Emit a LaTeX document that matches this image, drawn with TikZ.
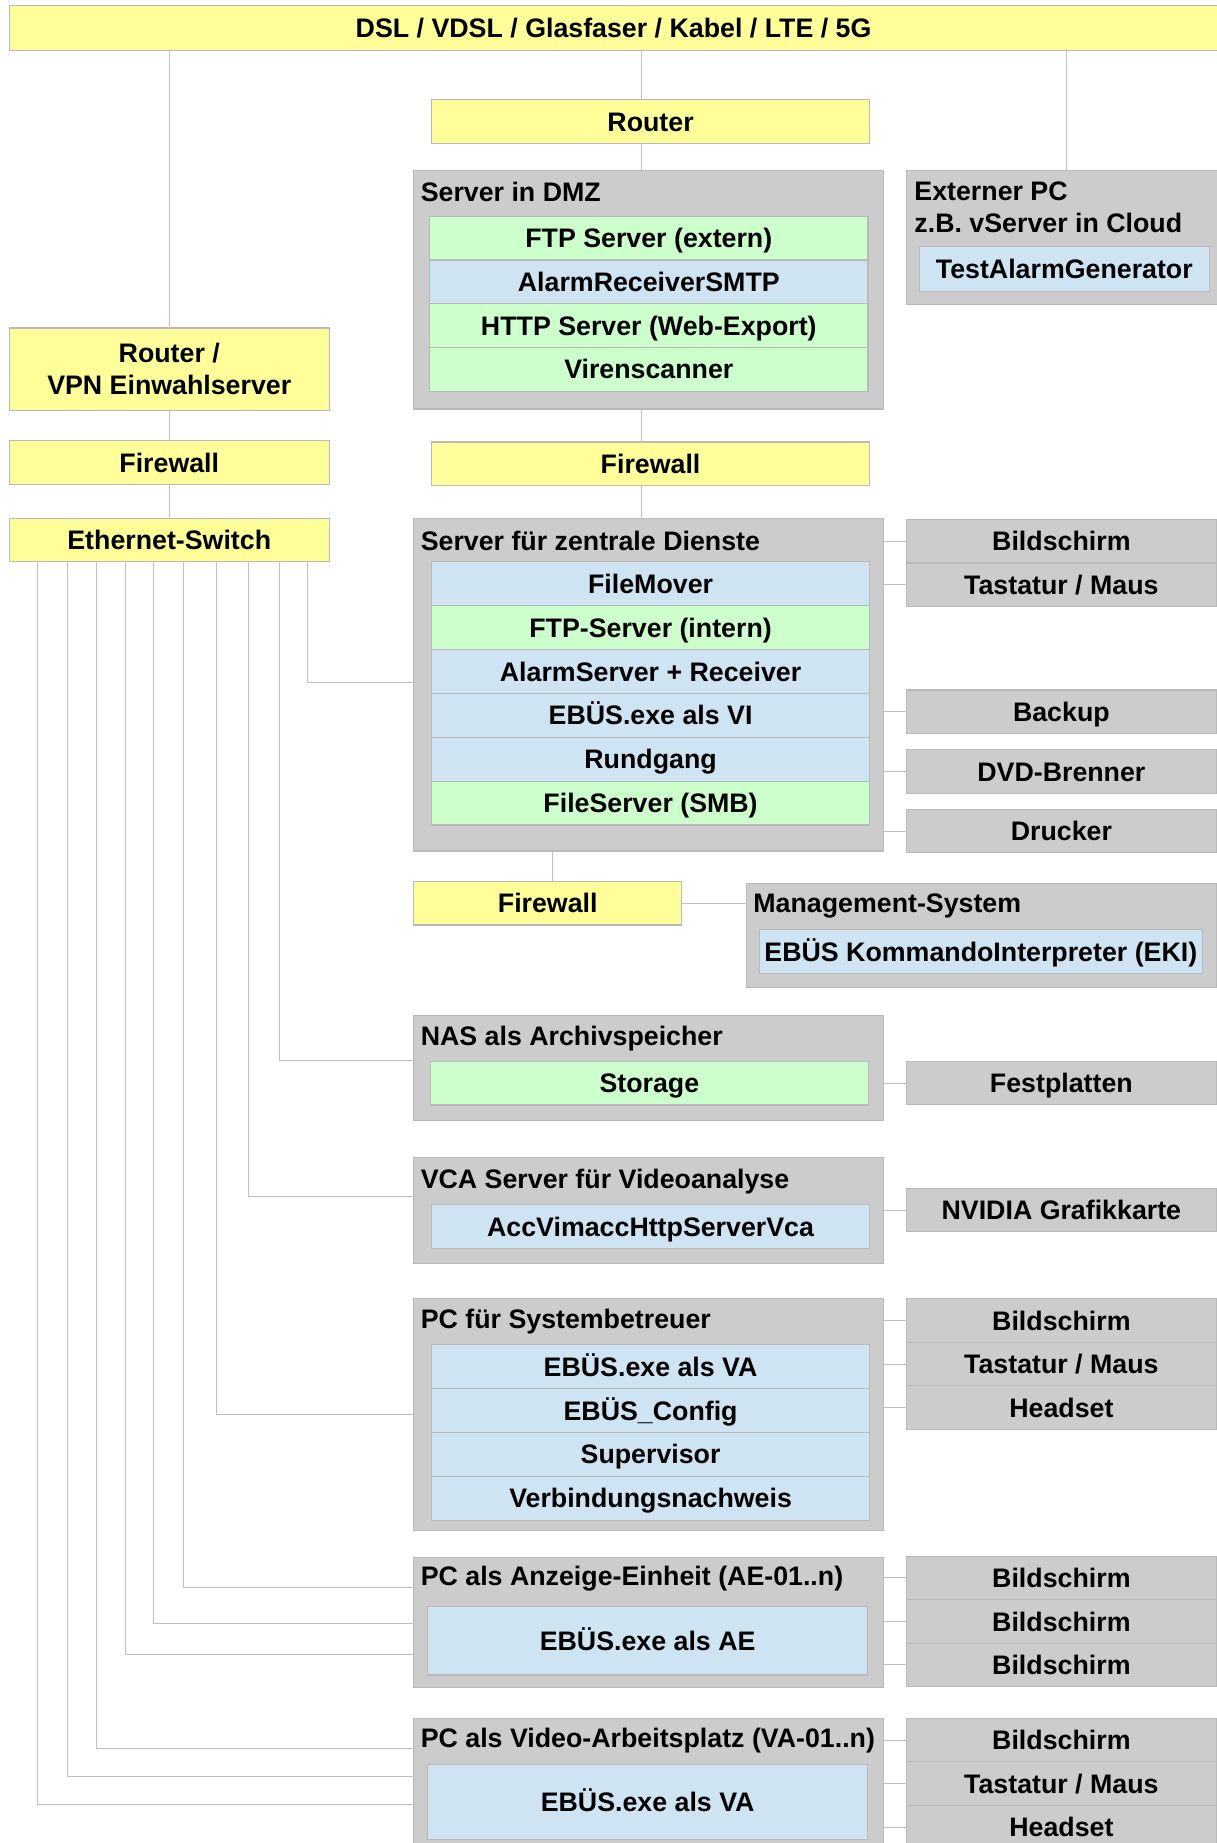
\documentclass[tikz,border=0pt]{standalone}
\usepackage{fontspec}
\setmainfont{Liberation Sans}
\usetikzlibrary{positioning}

\definecolor{gelb}{RGB}{255,255,153}
\definecolor{grau}{RGB}{204,204,204}
\definecolor{gruen}{RGB}{204,255,204}
\definecolor{blau}{RGB}{207,228,243}
\definecolor{rand}{RGB}{185,185,185}
\definecolor{linie}{RGB}{192,192,192}

\begin{document}
\begin{tikzpicture}[
    font=\fontsize{16.2}{19.2}\selectfont\bfseries,
    every node/.style={inner sep=0pt, outer sep=0pt},
    zeile/.style={text height=11.6pt, text depth=0pt},
    netzbox/.style={rectangle, draw=rand, line width=0.7pt, fill=gelb, minimum height=0.925cm},
    netz/.style={netzbox, zeile},
    gruppe/.style={rectangle, draw=rand, line width=0.7pt, fill=grau, minimum width=10cm},
    titel/.style={anchor=west},
    dienst/.style={rectangle, draw=rand, line width=0.7pt, fill=blau, minimum width=9.325cm, minimum height=0.933cm, zeile},
    dienstg/.style={dienst, fill=gruen},
    geraet/.style={rectangle, draw=rand, line width=0.7pt, fill=grau, minimum width=6.6cm, minimum height=0.925cm, zeile},
    link/.style={draw=linie, line width=0.6pt}
]
    \useasboundingbox (0,0) rectangle (25.875,-39.2);

    % Anschluss
    \node[netz, minimum width=25.7cm, minimum height=0.95cm] (dsl) at (13.05,-0.6) {DSL / VDSL / Glasfaser / Kabel / LTE / 5G};

    % Router und DMZ
    \node[netz, minimum width=9.325cm] (router) at (13.8375,-2.5875) {Router};
    \node[gruppe, minimum height=5.075cm] (dmz) at (13.8,-6.1625) {};
    \node[titel] (dmztitel) at (8.95,-4.075) {Server in DMZ};
    \node[dienstg, minimum height=0.93cm] (ftpext) at (13.8,-5.065) {FTP Server (extern)};
    \node[dienst, minimum height=0.93cm, below=0pt of ftpext] (smtp) {AlarmReceiverSMTP};
    \node[dienstg, minimum height=0.93cm, below=0pt of smtp] (http) {HTTP Server (Web-Export)};
    \node[dienstg, minimum height=0.93cm, below=0pt of http] (viren) {Virenscanner};

    % Externer PC
    \node[gruppe, minimum width=6.625cm, minimum height=2.85cm] (extern) at (22.5875,-5.05) {};
    \node[titel, align=left] (externtitel) at (19.45,-4.41) {Externer PC\\z.B. vServer in Cloud};
    \node[dienst, minimum width=6.175cm, minimum height=0.95cm] (tag) at (22.6375,-5.725) {TestAlarmGenerator};

    % Einwahl links
    \node[netzbox, minimum width=6.8cm, minimum height=1.75cm, align=center] (vpn) at (3.6,-7.85) {Router /\\VPN Einwahlserver};
    \node[netz, minimum width=6.8cm] (fw1) at (3.6,-9.8375) {Firewall};
    \node[netz, minimum width=6.8cm] (switch) at (3.6,-11.4875) {Ethernet-Switch};

    % Server fuer zentrale Dienste
    \node[netz, minimum width=9.325cm] (fw2) at (13.8375,-9.8625) {Firewall};
    \node[gruppe, minimum height=7.075cm] (srv) at (13.8,-14.5625) {};
    \node[titel] (srvtitel) at (8.95,-11.5) {Server für zentrale Dienste};
    \node[dienst] (filemover) at (13.8375,-12.4165) {FileMover};
    \node[dienstg, below=0pt of filemover] (ftpint) {FTP-Server (intern)};
    \node[dienst, below=0pt of ftpint] (alarm) {AlarmServer + Receiver};
    \node[dienst, below=0pt of alarm] (vi) {EBÜS.exe als VI};
    \node[dienst, below=0pt of vi] (rundgang) {Rundgang};
    \node[dienstg, below=0pt of rundgang] (smb) {FileServer (SMB)};

    \node[geraet] (bs1) at (22.575,-11.5125) {Bildschirm};
    \node[geraet, below=0pt of bs1] (tm1) {Tastatur / Maus};
    \node[geraet] (backup) at (22.575,-15.1375) {Backup};
    \node[geraet] (dvd) at (22.575,-16.4125) {DVD-Brenner};
    \node[geraet] (drucker) at (22.575,-17.675) {Drucker};

    % Management-System
    \node[netz, minimum width=5.7cm] (fw3) at (11.65,-19.2125) {Firewall};
    \node[gruppe, minimum height=2.2cm] (mgmt) at (20.875,-19.9) {};
    \node[titel] (mgmttitel) at (16.025,-19.275) {Management-System};
    \node[dienst, minimum width=9.425cm] (eki) at (20.8625,-20.2375) {EBÜS KommandoInterpreter (EKI)};

    % NAS
    \node[gruppe, minimum height=2.225cm] (nas) at (13.8,-22.7125) {};
    \node[titel] (nastitel) at (8.95,-22.1) {NAS als Archivspeicher};
    \node[dienstg] (storage) at (13.8125,-23.0375) {Storage};
    \node[geraet] (platten) at (22.575,-23.0375) {Festplatten};

    % VCA Server
    \node[gruppe, minimum height=2.25cm] (vca) at (13.8,-25.75) {};
    \node[titel] (vcatitel) at (8.95,-25.125) {VCA Server für Videoanalyse};
    \node[dienst] (acc) at (13.8375,-26.0875) {AccVimaccHttpServerVca};
    \node[geraet] (nvidia) at (22.575,-25.7375) {NVIDIA Grafikkarte};

    % PC fuer Systembetreuer
    \node[gruppe, minimum height=4.925cm] (pcsys) at (13.8,-30.0875) {};
    \node[titel] (pcsystitel) at (8.95,-28.1) {PC für Systembetreuer};
    \node[dienst] (va1) at (13.8375,-29.0665) {EBÜS.exe als VA};
    \node[dienst, below=0pt of va1] (config) {EBÜS\_Config};
    \node[dienst, below=0pt of config] (supervisor) {Supervisor};
    \node[dienst, below=0pt of supervisor] (nachweis) {Verbindungsnachweis};

    \node[geraet] (bs2) at (22.575,-28.0875) {Bildschirm};
    \node[geraet, below=0pt of bs2] (tm2) {Tastatur / Maus};
    \node[geraet, below=0pt of tm2] (hs1) {Headset};

    % Anzeige-Einheit
    \node[gruppe, minimum height=2.775cm] (ae) at (13.8,-34.5125) {};
    \node[titel] (aetitel) at (8.95,-33.575) {PC als Anzeige-Einheit (AE-01..n)};
    \node[dienst, minimum width=9.35cm, minimum height=1.45cm] (aeexe) at (13.775,-34.9) {EBÜS.exe als AE};

    \node[geraet] (bs3) at (22.575,-33.5625) {Bildschirm};
    \node[geraet, below=0pt of bs3] (bs4) {Bildschirm};
    \node[geraet, below=0pt of bs4] (bs5) {Bildschirm};

    % Video-Arbeitsplatz
    \node[gruppe, minimum height=2.95cm] (va) at (13.8,-38.025) {};
    \node[titel] (vatitel) at (8.95,-37.025) {PC als Video-Arbeitsplatz (VA-01..n)};
    \node[dienst, minimum width=9.35cm, minimum height=1.6cm] (vaexe) at (13.775,-38.325) {EBÜS.exe als VA};

    \node[geraet] (bs6) at (22.575,-37.0125) {Bildschirm};
    \node[geraet, below=0pt of bs6] (tm3) {Tastatur / Maus};
    \node[geraet, below=0pt of tm3] (hs2) {Headset};

    % Verbindungen
    \coordinate (dmzbus) at (13.65,-1.5);
    \coordinate (extbus) at (22.675,-1.5);
    \coordinate (fwbus) at (11.75,-18.5);
    \draw[link] (dsl.south -| dmzbus) -- (router.north -| dmzbus);
    \draw[link] (router.south -| dmzbus) -- (dmz.north -| dmzbus);
    \draw[link] (dmz.south -| dmzbus) -- (fw2.north -| dmzbus);
    \draw[link] (fw2.south -| dmzbus) -- (srv.north -| dmzbus);
    \draw[link] (dsl.south -| vpn.north) -- (vpn.north);
    \draw[link] (dsl.south -| extbus) -- (extern.north -| extbus);
    \draw[link] (vpn) -- (fw1);
    \draw[link] (fw1) -- (switch);
    \draw[link] (srv.south -| fwbus) -- (fw3.north -| fwbus);
    \draw[link] (fw3.east) -- (fw3.east -| mgmt.west);

    % Switch-Leitungen
    \foreach \x/\ziel/\y in {6.55/srv/-14.525, 5.95/nas/-22.55, 5.275/vca/-25.45, 4.6/pcsys/-30.075,
                             3.9/ae/-33.775, 3.275/ae/-34.525, 2.675/ae/-35.2,
                             2.05/va/-37.2, 1.425/va/-37.775, 0.8/va/-38.375}
        \draw[link] (switch.south -| \x,0) |- (\ziel.west |- 0,\y);

    % Peripherie
    \foreach \g/\p in {srv/bs1, srv/tm1, srv/backup, srv/dvd, srv/drucker, nas/platten, vca/nvidia,
                       pcsys/bs2, pcsys/tm2, pcsys/hs1, ae/bs3, ae/bs4, ae/bs5, va/bs6, va/tm3, va/hs2}
        \draw[link] (\p.west -| \g.east) -- (\p.west);
\end{tikzpicture}
\end{document}
